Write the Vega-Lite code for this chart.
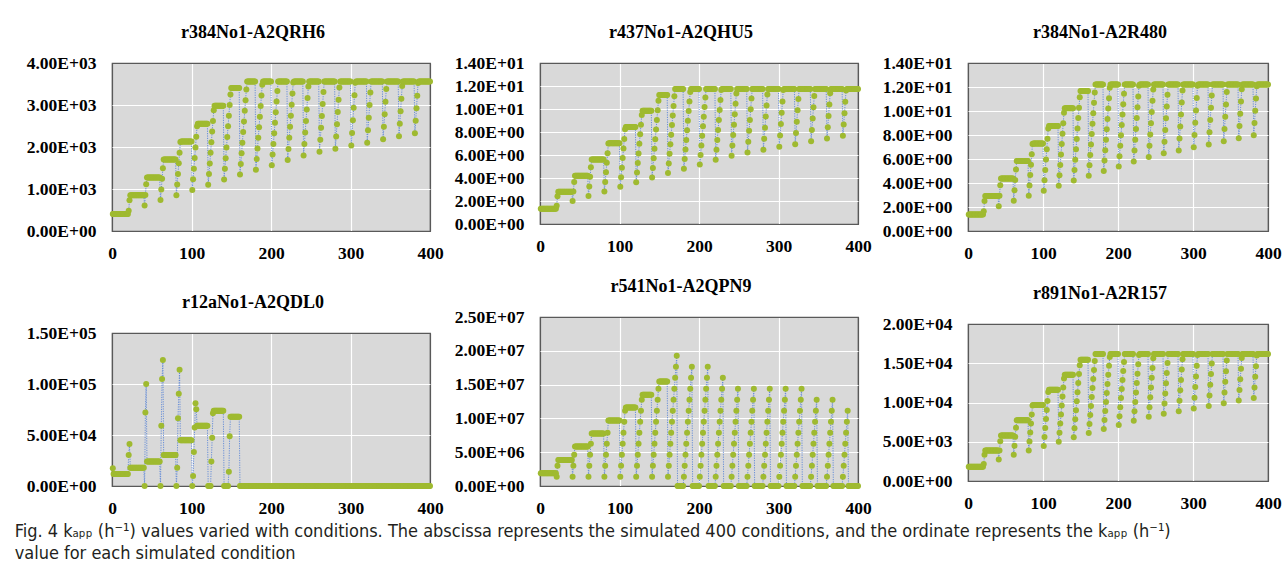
{
  "$schema": "https://vega.github.io/schema/vega-lite/v6.json",
  "background": "white",
  "padding": {"left": 14, "top": 23, "right": 2, "bottom": 2},
  "title": {
    "text": ["Fig. 4  kₐₚₚ (h⁻¹) values varied with conditions. The abscissa represents the simulated 400 conditions, and the ordinate represents the kₐₚₚ (h⁻¹)", "value for each simulated condition"],
    "orient": "bottom", "anchor": "start", "frame": "bounds",
    "font": "Liberation Sans Narrow, DejaVu Sans Condensed, Liberation Sans",
    "fontSize": 18, "fontWeight": "normal", "color": "#231f20",
    "lineHeight": 22, "offset": 6, "dx": -11
  },
  "spacing": 9,
  "hconcat": [
    {
      "spacing": 30,
      "vconcat": [
        {
          "width": 318, "height": 168,
          "title": "r384No1-A2QRH6",
          "data": {"values": "x,y\n1,402\n2,402\n3,402\n4,402\n5,402\n6,402\n7,402\n8,402\n9,402\n10,402\n11,402\n12,402\n13,402\n14,402\n15,402\n16,402\n17,402\n18,402\n19,402\n20,402\n21,481\n22,733\n23,851\n24,851\n25,851\n26,851\n27,851\n28,851\n29,851\n30,851\n31,851\n32,851\n33,851\n34,851\n35,851\n36,851\n37,851\n38,851\n39,851\n40,851\n41,605\n42,858\n43,1111\n44,1274\n45,1274\n46,1274\n47,1274\n48,1274\n49,1274\n50,1274\n51,1274\n52,1274\n53,1274\n54,1274\n55,1274\n56,1274\n57,1274\n58,1274\n59,1274\n60,1274\n61,737\n62,990\n63,1242\n64,1495\n65,1702\n66,1702\n67,1702\n68,1702\n69,1702\n70,1702\n71,1702\n72,1702\n73,1702\n74,1702\n75,1702\n76,1702\n77,1702\n78,1702\n79,1702\n80,1702\n81,854\n82,1107\n83,1360\n84,1613\n85,1865\n86,2118\n87,2129\n88,2129\n89,2129\n90,2129\n91,2129\n92,2129\n93,2129\n94,2129\n95,2129\n96,2129\n97,2129\n98,2129\n99,2129\n100,2129\n101,979\n102,1232\n103,1485\n104,1737\n105,1990\n106,2243\n107,2496\n108,2556\n109,2556\n110,2556\n111,2556\n112,2556\n113,2556\n114,2556\n115,2556\n116,2556\n117,2556\n118,2556\n119,2556\n120,2556\n121,1104\n122,1356\n123,1609\n124,1862\n125,2115\n126,2367\n127,2620\n128,2873\n129,2983\n130,2983\n131,2983\n132,2983\n133,2983\n134,2983\n135,2983\n136,2983\n137,2983\n138,2983\n139,2983\n140,2983\n141,1228\n142,1481\n143,1734\n144,1986\n145,2239\n146,2492\n147,2745\n148,2998\n149,3250\n150,3403\n151,3403\n152,3403\n153,3403\n154,3403\n155,3403\n156,3403\n157,3403\n158,3403\n159,3403\n160,3403\n161,1346\n162,1598\n163,1851\n164,2104\n165,2357\n166,2609\n167,2862\n168,3115\n169,3368\n170,3560\n171,3560\n172,3560\n173,3560\n174,3560\n175,3560\n176,3560\n177,3560\n178,3560\n179,3560\n180,3560\n181,1460\n182,1712\n183,1965\n184,2218\n185,2471\n186,2723\n187,2976\n188,3229\n189,3482\n190,3560\n191,3560\n192,3560\n193,3560\n194,3560\n195,3560\n196,3560\n197,3560\n198,3560\n199,3560\n200,3560\n201,1566\n202,1819\n203,2072\n204,2325\n205,2577\n206,2830\n207,3083\n208,3336\n209,3560\n210,3560\n211,3560\n212,3560\n213,3560\n214,3560\n215,3560\n216,3560\n217,3560\n218,3560\n219,3560\n220,3560\n221,1691\n222,1954\n223,2218\n224,2481\n225,2745\n226,3008\n227,3272\n228,3535\n229,3560\n230,3560\n231,3560\n232,3560\n233,3560\n234,3560\n235,3560\n236,3560\n237,3560\n238,3560\n239,3560\n240,3560\n241,1798\n242,2072\n243,2346\n244,2620\n245,2894\n246,3168\n247,3443\n248,3560\n249,3560\n250,3560\n251,3560\n252,3560\n253,3560\n254,3560\n255,3560\n256,3560\n257,3560\n258,3560\n259,3560\n260,3560\n261,1887\n262,2172\n263,2456\n264,2741\n265,3026\n266,3311\n267,3560\n268,3560\n269,3560\n270,3560\n271,3560\n272,3560\n273,3560\n274,3560\n275,3560\n276,3560\n277,3560\n278,3560\n279,3560\n280,3560\n281,1958\n282,2250\n283,2542\n284,2834\n285,3126\n286,3418\n287,3560\n288,3560\n289,3560\n290,3560\n291,3560\n292,3560\n293,3560\n294,3560\n295,3560\n296,3560\n297,3560\n298,3560\n299,3560\n300,3560\n301,2036\n302,2335\n303,2634\n304,2933\n305,3232\n306,3531\n307,3560\n308,3560\n309,3560\n310,3560\n311,3560\n312,3560\n313,3560\n314,3560\n315,3560\n316,3560\n317,3560\n318,3560\n319,3560\n320,3560\n321,2100\n322,2399\n323,2698\n324,2998\n325,3297\n326,3560\n327,3560\n328,3560\n329,3560\n330,3560\n331,3560\n332,3560\n333,3560\n334,3560\n335,3560\n336,3560\n337,3560\n338,3560\n339,3560\n340,3560\n341,2182\n342,2481\n343,2780\n344,3079\n345,3378\n346,3560\n347,3560\n348,3560\n349,3560\n350,3560\n351,3560\n352,3560\n353,3560\n354,3560\n355,3560\n356,3560\n357,3560\n358,3560\n359,3560\n360,3560\n361,2253\n362,2552\n363,2852\n364,3151\n365,3450\n366,3560\n367,3560\n368,3560\n369,3560\n370,3560\n371,3560\n372,3560\n373,3560\n374,3560\n375,3560\n376,3560\n377,3560\n378,3560\n379,3560\n380,3560\n381,2325\n382,2624\n383,2923\n384,3222\n385,3521\n386,3560\n387,3560\n388,3560\n389,3560\n390,3560\n391,3560\n392,3560\n393,3560\n394,3560\n395,3560\n396,3560\n397,3560\n398,3560\n399,3560\n400,3560", "format": {"type": "csv", "parse": {"x": "number", "y": "number"}}},
          "encoding": {
            "x": {"field": "x", "type": "quantitative", "title": null, "scale": {"domain": [0, 400]}, "axis": {"values": [0, 100, 200, 300, 400], "gridColor": {"condition": {"test": "datum.value==0||datum.value==400", "value": "#595959"}, "value": "#ffffff"}}},
            "y": {"field": "y", "type": "quantitative", "title": null, "scale": {"domain": [0, 4000]}, "axis": {"values": [0, 1000, 2000, 3000, 4000], "gridColor": {"condition": {"test": "datum.value==0||datum.value==4000", "value": "#595959"}, "value": "#ffffff"}}}
          },
          "layer": [
            {"mark": {"type": "line", "stroke": "#5b86d6", "strokeWidth": 0.9, "strokeDash": [1.2, 1.2]}},
            {"mark": {"type": "circle", "size": 36, "color": "#9fba30", "opacity": 1}}
          ]
        },
        {
          "width": 318, "height": 153,
          "title": "r12aNo1-A2QDL0",
          "data": {"values": "x,y\n1,17400\n2,11800\n3,11800\n4,11800\n5,11800\n6,11800\n7,11800\n8,11800\n9,11800\n10,11800\n11,11800\n12,11800\n13,11800\n14,11800\n15,11800\n16,11800\n17,11800\n18,11800\n19,11800\n20,11800\n21,30400\n22,41200\n23,18000\n24,18000\n25,18000\n26,18000\n27,18000\n28,18000\n29,18000\n30,18000\n31,18000\n32,18000\n33,18000\n34,18000\n35,18000\n36,18000\n37,18000\n38,18000\n39,18000\n40,18000\n41,0\n42,72000\n43,100000\n44,23900\n45,23900\n46,23900\n47,23900\n48,23900\n49,23900\n50,23900\n51,23900\n52,23900\n53,23900\n54,23900\n55,23900\n56,23900\n57,23900\n58,23900\n59,23900\n60,23900\n61,0\n62,59000\n63,105000\n64,123500\n65,30400\n66,30400\n67,30400\n68,30400\n69,30400\n70,30400\n71,30400\n72,30400\n73,30400\n74,30400\n75,30400\n76,30400\n77,30400\n78,30400\n79,30400\n80,30400\n81,0\n82,18000\n83,66500\n84,90400\n85,114000\n86,44900\n87,44900\n88,44900\n89,44900\n90,44900\n91,44900\n92,44900\n93,44900\n94,44900\n95,44900\n96,44900\n97,44900\n98,44900\n99,44900\n100,44900\n101,0\n102,9800\n103,33400\n104,57300\n105,81200\n106,75300\n107,59000\n108,59000\n109,59000\n110,59000\n111,59000\n112,59000\n113,59000\n114,59000\n115,59000\n116,59000\n117,59000\n118,59000\n119,59000\n120,59000\n121,0\n122,0\n123,0\n124,0\n125,23900\n126,47400\n127,71400\n128,73700\n129,73700\n130,73700\n131,73700\n132,73700\n133,73700\n134,73700\n135,73700\n136,73700\n137,73700\n138,73700\n139,73700\n140,73700\n141,0\n142,0\n143,0\n144,0\n145,0\n146,0\n147,14000\n148,48800\n149,67800\n150,67800\n151,67800\n152,67800\n153,67800\n154,67800\n155,67800\n156,67800\n157,67800\n158,67800\n159,67800\n160,67800\n161,0\n162,0\n163,0\n164,0\n165,0\n166,0\n167,0\n168,0\n169,0\n170,0\n171,0\n172,0\n173,0\n174,0\n175,0\n176,0\n177,0\n178,0\n179,0\n180,0\n181,0\n182,0\n183,0\n184,0\n185,0\n186,0\n187,0\n188,0\n189,0\n190,0\n191,0\n192,0\n193,0\n194,0\n195,0\n196,0\n197,0\n198,0\n199,0\n200,0\n201,0\n202,0\n203,0\n204,0\n205,0\n206,0\n207,0\n208,0\n209,0\n210,0\n211,0\n212,0\n213,0\n214,0\n215,0\n216,0\n217,0\n218,0\n219,0\n220,0\n221,0\n222,0\n223,0\n224,0\n225,0\n226,0\n227,0\n228,0\n229,0\n230,0\n231,0\n232,0\n233,0\n234,0\n235,0\n236,0\n237,0\n238,0\n239,0\n240,0\n241,0\n242,0\n243,0\n244,0\n245,0\n246,0\n247,0\n248,0\n249,0\n250,0\n251,0\n252,0\n253,0\n254,0\n255,0\n256,0\n257,0\n258,0\n259,0\n260,0\n261,0\n262,0\n263,0\n264,0\n265,0\n266,0\n267,0\n268,0\n269,0\n270,0\n271,0\n272,0\n273,0\n274,0\n275,0\n276,0\n277,0\n278,0\n279,0\n280,0\n281,0\n282,0\n283,0\n284,0\n285,0\n286,0\n287,0\n288,0\n289,0\n290,0\n291,0\n292,0\n293,0\n294,0\n295,0\n296,0\n297,0\n298,0\n299,0\n300,0\n301,0\n302,0\n303,0\n304,0\n305,0\n306,0\n307,0\n308,0\n309,0\n310,0\n311,0\n312,0\n313,0\n314,0\n315,0\n316,0\n317,0\n318,0\n319,0\n320,0\n321,0\n322,0\n323,0\n324,0\n325,0\n326,0\n327,0\n328,0\n329,0\n330,0\n331,0\n332,0\n333,0\n334,0\n335,0\n336,0\n337,0\n338,0\n339,0\n340,0\n341,0\n342,0\n343,0\n344,0\n345,0\n346,0\n347,0\n348,0\n349,0\n350,0\n351,0\n352,0\n353,0\n354,0\n355,0\n356,0\n357,0\n358,0\n359,0\n360,0\n361,0\n362,0\n363,0\n364,0\n365,0\n366,0\n367,0\n368,0\n369,0\n370,0\n371,0\n372,0\n373,0\n374,0\n375,0\n376,0\n377,0\n378,0\n379,0\n380,0\n381,0\n382,0\n383,0\n384,0\n385,0\n386,0\n387,0\n388,0\n389,0\n390,0\n391,0\n392,0\n393,0\n394,0\n395,0\n396,0\n397,0\n398,0\n399,0\n400,0", "format": {"type": "csv", "parse": {"x": "number", "y": "number"}}},
          "encoding": {
            "x": {"field": "x", "type": "quantitative", "title": null, "scale": {"domain": [0, 400]}, "axis": {"values": [0, 100, 200, 300, 400], "gridColor": {"condition": {"test": "datum.value==0||datum.value==400", "value": "#595959"}, "value": "#ffffff"}}},
            "y": {"field": "y", "type": "quantitative", "title": null, "scale": {"domain": [0, 150000]}, "axis": {"values": [0, 50000, 100000, 150000], "gridColor": {"condition": {"test": "datum.value==0||datum.value==150000", "value": "#595959"}, "value": "#ffffff"}}}
          },
          "layer": [
            {"mark": {"type": "line", "stroke": "#5b86d6", "strokeWidth": 0.9, "strokeDash": [1.2, 1.2]}},
            {"mark": {"type": "circle", "size": 36, "color": "#9fba30", "opacity": 1}}
          ]
        }
      ]
    },
    {
      "spacing": 21,
      "vconcat": [
        {
          "width": 318, "height": 161,
          "title": "r437No1-A2QHU5",
          "data": {"values": "x,y\n1,1.33\n2,1.33\n3,1.33\n4,1.33\n5,1.33\n6,1.33\n7,1.33\n8,1.33\n9,1.33\n10,1.33\n11,1.33\n12,1.33\n13,1.33\n14,1.33\n15,1.33\n16,1.33\n17,1.33\n18,1.33\n19,1.33\n20,1.33\n21,1.59\n22,2.42\n23,2.81\n24,2.81\n25,2.81\n26,2.81\n27,2.81\n28,2.81\n29,2.81\n30,2.81\n31,2.81\n32,2.81\n33,2.81\n34,2.81\n35,2.81\n36,2.81\n37,2.81\n38,2.81\n39,2.81\n40,2.81\n41,2.00\n42,2.83\n43,3.66\n44,4.20\n45,4.20\n46,4.20\n47,4.20\n48,4.20\n49,4.20\n50,4.20\n51,4.20\n52,4.20\n53,4.20\n54,4.20\n55,4.20\n56,4.20\n57,4.20\n58,4.20\n59,4.20\n60,4.20\n61,2.43\n62,3.26\n63,4.10\n64,4.93\n65,5.61\n66,5.61\n67,5.61\n68,5.61\n69,5.61\n70,5.61\n71,5.61\n72,5.61\n73,5.61\n74,5.61\n75,5.61\n76,5.61\n77,5.61\n78,5.61\n79,5.61\n80,5.61\n81,2.82\n82,3.65\n83,4.49\n84,5.32\n85,6.15\n86,6.99\n87,7.02\n88,7.02\n89,7.02\n90,7.02\n91,7.02\n92,7.02\n93,7.02\n94,7.02\n95,7.02\n96,7.02\n97,7.02\n98,7.02\n99,7.02\n100,7.02\n101,3.23\n102,4.06\n103,4.90\n104,5.73\n105,6.56\n106,7.40\n107,8.23\n108,8.43\n109,8.43\n110,8.43\n111,8.43\n112,8.43\n113,8.43\n114,8.43\n115,8.43\n116,8.43\n117,8.43\n118,8.43\n119,8.43\n120,8.43\n121,3.64\n122,4.47\n123,5.31\n124,6.14\n125,6.97\n126,7.81\n127,8.64\n128,9.47\n129,9.84\n130,9.84\n131,9.84\n132,9.84\n133,9.84\n134,9.84\n135,9.84\n136,9.84\n137,9.84\n138,9.84\n139,9.84\n140,9.84\n141,4.05\n142,4.88\n143,5.72\n144,6.55\n145,7.38\n146,8.22\n147,9.05\n148,9.89\n149,10.72\n150,11.22\n151,11.22\n152,11.22\n153,11.22\n154,11.22\n155,11.22\n156,11.22\n157,11.22\n158,11.22\n159,11.22\n160,11.22\n161,4.44\n162,5.27\n163,6.11\n164,6.94\n165,7.77\n166,8.61\n167,9.44\n168,10.27\n169,11.11\n170,11.74\n171,11.74\n172,11.74\n173,11.74\n174,11.74\n175,11.74\n176,11.74\n177,11.74\n178,11.74\n179,11.74\n180,11.74\n181,4.81\n182,5.65\n183,6.48\n184,7.31\n185,8.15\n186,8.98\n187,9.82\n188,10.65\n189,11.48\n190,11.74\n191,11.74\n192,11.74\n193,11.74\n194,11.74\n195,11.74\n196,11.74\n197,11.74\n198,11.74\n199,11.74\n200,11.74\n201,5.17\n202,6.00\n203,6.83\n204,7.67\n205,8.50\n206,9.33\n207,10.17\n208,11.00\n209,11.74\n210,11.74\n211,11.74\n212,11.74\n213,11.74\n214,11.74\n215,11.74\n216,11.74\n217,11.74\n218,11.74\n219,11.74\n220,11.74\n221,5.58\n222,6.45\n223,7.31\n224,8.18\n225,9.05\n226,9.92\n227,10.79\n228,11.66\n229,11.74\n230,11.74\n231,11.74\n232,11.74\n233,11.74\n234,11.74\n235,11.74\n236,11.74\n237,11.74\n238,11.74\n239,11.74\n240,11.74\n241,5.93\n242,6.83\n243,7.74\n244,8.64\n245,9.55\n246,10.45\n247,11.35\n248,11.74\n249,11.74\n250,11.74\n251,11.74\n252,11.74\n253,11.74\n254,11.74\n255,11.74\n256,11.74\n257,11.74\n258,11.74\n259,11.74\n260,11.74\n261,6.22\n262,7.16\n263,8.10\n264,9.04\n265,9.98\n266,10.92\n267,11.74\n268,11.74\n269,11.74\n270,11.74\n271,11.74\n272,11.74\n273,11.74\n274,11.74\n275,11.74\n276,11.74\n277,11.74\n278,11.74\n279,11.74\n280,11.74\n281,6.46\n282,7.42\n283,8.38\n284,9.35\n285,10.31\n286,11.27\n287,11.74\n288,11.74\n289,11.74\n290,11.74\n291,11.74\n292,11.74\n293,11.74\n294,11.74\n295,11.74\n296,11.74\n297,11.74\n298,11.74\n299,11.74\n300,11.74\n301,6.72\n302,7.70\n303,8.69\n304,9.67\n305,10.66\n306,11.65\n307,11.74\n308,11.74\n309,11.74\n310,11.74\n311,11.74\n312,11.74\n313,11.74\n314,11.74\n315,11.74\n316,11.74\n317,11.74\n318,11.74\n319,11.74\n320,11.74\n321,6.93\n322,7.91\n323,8.90\n324,9.89\n325,10.87\n326,11.74\n327,11.74\n328,11.74\n329,11.74\n330,11.74\n331,11.74\n332,11.74\n333,11.74\n334,11.74\n335,11.74\n336,11.74\n337,11.74\n338,11.74\n339,11.74\n340,11.74\n341,7.20\n342,8.18\n343,9.17\n344,10.16\n345,11.14\n346,11.74\n347,11.74\n348,11.74\n349,11.74\n350,11.74\n351,11.74\n352,11.74\n353,11.74\n354,11.74\n355,11.74\n356,11.74\n357,11.74\n358,11.74\n359,11.74\n360,11.74\n361,7.43\n362,8.42\n363,9.40\n364,10.39\n365,11.38\n366,11.74\n367,11.74\n368,11.74\n369,11.74\n370,11.74\n371,11.74\n372,11.74\n373,11.74\n374,11.74\n375,11.74\n376,11.74\n377,11.74\n378,11.74\n379,11.74\n380,11.74\n381,7.67\n382,8.65\n383,9.64\n384,10.63\n385,11.61\n386,11.74\n387,11.74\n388,11.74\n389,11.74\n390,11.74\n391,11.74\n392,11.74\n393,11.74\n394,11.74\n395,11.74\n396,11.74\n397,11.74\n398,11.74\n399,11.74\n400,11.74", "format": {"type": "csv", "parse": {"x": "number", "y": "number"}}},
          "encoding": {
            "x": {"field": "x", "type": "quantitative", "title": null, "scale": {"domain": [0, 400]}, "axis": {"values": [0, 100, 200, 300, 400], "gridColor": {"condition": {"test": "datum.value==0||datum.value==400", "value": "#595959"}, "value": "#ffffff"}}},
            "y": {"field": "y", "type": "quantitative", "title": null, "scale": {"domain": [0, 14]}, "axis": {"values": [0, 2, 4, 6, 8, 10, 12, 14], "gridColor": {"condition": {"test": "datum.value==0||datum.value==14", "value": "#595959"}, "value": "#ffffff"}}}
          },
          "layer": [
            {"mark": {"type": "line", "stroke": "#5b86d6", "strokeWidth": 0.9, "strokeDash": [1.2, 1.2]}},
            {"mark": {"type": "circle", "size": 36, "color": "#9fba30", "opacity": 1}}
          ]
        },
        {
          "width": 318, "height": 169,
          "title": "r541No1-A2QPN9",
          "data": {"values": "x,y\n1,1.88e6\n2,1.88e6\n3,1.88e6\n4,1.88e6\n5,1.88e6\n6,1.88e6\n7,1.88e6\n8,1.88e6\n9,1.88e6\n10,1.88e6\n11,1.88e6\n12,1.88e6\n13,1.88e6\n14,1.88e6\n15,1.88e6\n16,1.88e6\n17,1.88e6\n18,1.88e6\n19,1.88e6\n20,1.88e6\n21,1.38e6\n22,3.0e6\n23,3.85e6\n24,3.85e6\n25,3.85e6\n26,3.85e6\n27,3.85e6\n28,3.85e6\n29,3.85e6\n30,3.85e6\n31,3.85e6\n32,3.85e6\n33,3.85e6\n34,3.85e6\n35,3.85e6\n36,3.85e6\n37,3.85e6\n38,3.85e6\n39,3.85e6\n40,3.85e6\n41,1.38e6\n42,3.0e6\n43,4.63e6\n44,5.85e6\n45,5.85e6\n46,5.85e6\n47,5.85e6\n48,5.85e6\n49,5.85e6\n50,5.85e6\n51,5.85e6\n52,5.85e6\n53,5.85e6\n54,5.85e6\n55,5.85e6\n56,5.85e6\n57,5.85e6\n58,5.85e6\n59,5.85e6\n60,5.85e6\n61,1.38e6\n62,3.0e6\n63,4.63e6\n64,6.25e6\n65,7.78e6\n66,7.78e6\n67,7.78e6\n68,7.78e6\n69,7.78e6\n70,7.78e6\n71,7.78e6\n72,7.78e6\n73,7.78e6\n74,7.78e6\n75,7.78e6\n76,7.78e6\n77,7.78e6\n78,7.78e6\n79,7.78e6\n80,7.78e6\n81,1.38e6\n82,3.0e6\n83,4.63e6\n84,6.25e6\n85,7.88e6\n86,9.68e6\n87,9.68e6\n88,9.68e6\n89,9.68e6\n90,9.68e6\n91,9.68e6\n92,9.68e6\n93,9.68e6\n94,9.68e6\n95,9.68e6\n96,9.68e6\n97,9.68e6\n98,9.68e6\n99,9.68e6\n100,9.68e6\n101,1.38e6\n102,3.0e6\n103,4.63e6\n104,6.25e6\n105,7.88e6\n106,9.5e6\n107,1.113e7\n108,1.16e7\n109,1.16e7\n110,1.16e7\n111,1.16e7\n112,1.16e7\n113,1.16e7\n114,1.16e7\n115,1.16e7\n116,1.16e7\n117,1.16e7\n118,1.16e7\n119,1.16e7\n120,1.16e7\n121,1.38e6\n122,3.0e6\n123,4.63e6\n124,6.25e6\n125,7.88e6\n126,9.5e6\n127,1.113e7\n128,1.275e7\n129,1.35e7\n130,1.35e7\n131,1.35e7\n132,1.35e7\n133,1.35e7\n134,1.35e7\n135,1.35e7\n136,1.35e7\n137,1.35e7\n138,1.35e7\n139,1.35e7\n140,1.35e7\n141,1.38e6\n142,3.0e6\n143,4.63e6\n144,6.25e6\n145,7.88e6\n146,9.5e6\n147,1.113e7\n148,1.275e7\n149,1.438e7\n150,1.546e7\n151,1.546e7\n152,1.546e7\n153,1.546e7\n154,1.546e7\n155,1.546e7\n156,1.546e7\n157,1.546e7\n158,1.546e7\n159,1.546e7\n160,1.546e7\n161,1.38e6\n162,3.0e6\n163,4.63e6\n164,6.25e6\n165,7.88e6\n166,9.5e6\n167,1.113e7\n168,1.275e7\n169,1.438e7\n170,1.6e7\n171,1.763e7\n172,1.925e7\n173,0\n174,0\n175,0\n176,0\n177,0\n178,0\n179,0\n180,0\n181,1.38e6\n182,3.0e6\n183,4.63e6\n184,6.25e6\n185,7.88e6\n186,9.5e6\n187,1.113e7\n188,1.275e7\n189,1.438e7\n190,1.6e7\n191,1.763e7\n192,0\n193,0\n194,0\n195,0\n196,0\n197,0\n198,0\n199,0\n200,0\n201,1.38e6\n202,3.0e6\n203,4.63e6\n204,6.25e6\n205,7.88e6\n206,9.5e6\n207,1.113e7\n208,1.275e7\n209,1.438e7\n210,1.6e7\n211,1.763e7\n212,0\n213,0\n214,0\n215,0\n216,0\n217,0\n218,0\n219,0\n220,0\n221,1.38e6\n222,3.0e6\n223,4.63e6\n224,6.25e6\n225,7.88e6\n226,9.5e6\n227,1.113e7\n228,1.275e7\n229,1.438e7\n230,1.6e7\n231,0\n232,0\n233,0\n234,0\n235,0\n236,0\n237,0\n238,0\n239,0\n240,0\n241,1.38e6\n242,3.0e6\n243,4.63e6\n244,6.25e6\n245,7.88e6\n246,9.5e6\n247,1.113e7\n248,1.275e7\n249,1.438e7\n250,0\n251,0\n252,0\n253,0\n254,0\n255,0\n256,0\n257,0\n258,0\n259,0\n260,0\n261,1.38e6\n262,3.0e6\n263,4.63e6\n264,6.25e6\n265,7.88e6\n266,9.5e6\n267,1.113e7\n268,1.275e7\n269,1.438e7\n270,0\n271,0\n272,0\n273,0\n274,0\n275,0\n276,0\n277,0\n278,0\n279,0\n280,0\n281,1.38e6\n282,3.0e6\n283,4.63e6\n284,6.25e6\n285,7.88e6\n286,9.5e6\n287,1.113e7\n288,1.275e7\n289,1.438e7\n290,0\n291,0\n292,0\n293,0\n294,0\n295,0\n296,0\n297,0\n298,0\n299,0\n300,0\n301,1.38e6\n302,3.0e6\n303,4.63e6\n304,6.25e6\n305,7.88e6\n306,9.5e6\n307,1.113e7\n308,1.275e7\n309,1.438e7\n310,0\n311,0\n312,0\n313,0\n314,0\n315,0\n316,0\n317,0\n318,0\n319,0\n320,0\n321,1.38e6\n322,3.0e6\n323,4.63e6\n324,6.25e6\n325,7.88e6\n326,9.5e6\n327,1.113e7\n328,1.275e7\n329,1.438e7\n330,0\n331,0\n332,0\n333,0\n334,0\n335,0\n336,0\n337,0\n338,0\n339,0\n340,0\n341,1.38e6\n342,3.0e6\n343,4.63e6\n344,6.25e6\n345,7.88e6\n346,9.5e6\n347,1.113e7\n348,1.275e7\n349,0\n350,0\n351,0\n352,0\n353,0\n354,0\n355,0\n356,0\n357,0\n358,0\n359,0\n360,0\n361,1.38e6\n362,3.0e6\n363,4.63e6\n364,6.25e6\n365,7.88e6\n366,9.5e6\n367,1.113e7\n368,1.275e7\n369,0\n370,0\n371,0\n372,0\n373,0\n374,0\n375,0\n376,0\n377,0\n378,0\n379,0\n380,0\n381,1.38e6\n382,3.0e6\n383,4.63e6\n384,6.25e6\n385,7.88e6\n386,9.5e6\n387,1.113e7\n388,0\n389,0\n390,0\n391,0\n392,0\n393,0\n394,0\n395,0\n396,0\n397,0\n398,0\n399,0\n400,0", "format": {"type": "csv", "parse": {"x": "number", "y": "number"}}},
          "encoding": {
            "x": {"field": "x", "type": "quantitative", "title": null, "scale": {"domain": [0, 400]}, "axis": {"values": [0, 100, 200, 300, 400], "gridColor": {"condition": {"test": "datum.value==0||datum.value==400", "value": "#595959"}, "value": "#ffffff"}}},
            "y": {"field": "y", "type": "quantitative", "title": null, "scale": {"domain": [0, 25000000]}, "axis": {"values": [0, 5000000, 10000000, 15000000, 20000000, 25000000], "gridColor": {"condition": {"test": "datum.value==0||datum.value==25000000", "value": "#595959"}, "value": "#ffffff"}}}
          },
          "layer": [
            {"mark": {"type": "line", "stroke": "#5b86d6", "strokeWidth": 0.9, "strokeDash": [1.2, 1.2]}},
            {"mark": {"type": "circle", "size": 36, "color": "#9fba30", "opacity": 1}}
          ]
        }
      ]
    },
    {
      "spacing": 21,
      "vconcat": [
        {
          "width": 300, "height": 168,
          "title": "r384No1-A2R480",
          "data": {"values": "x,y\n1,1.38\n2,1.38\n3,1.38\n4,1.38\n5,1.38\n6,1.38\n7,1.38\n8,1.38\n9,1.38\n10,1.38\n11,1.38\n12,1.38\n13,1.38\n14,1.38\n15,1.38\n16,1.38\n17,1.38\n18,1.38\n19,1.38\n20,1.38\n21,1.65\n22,2.51\n23,2.92\n24,2.92\n25,2.92\n26,2.92\n27,2.92\n28,2.92\n29,2.92\n30,2.92\n31,2.92\n32,2.92\n33,2.92\n34,2.92\n35,2.92\n36,2.92\n37,2.92\n38,2.92\n39,2.92\n40,2.92\n41,2.07\n42,2.94\n43,3.81\n44,4.37\n45,4.37\n46,4.37\n47,4.37\n48,4.37\n49,4.37\n50,4.37\n51,4.37\n52,4.37\n53,4.37\n54,4.37\n55,4.37\n56,4.37\n57,4.37\n58,4.37\n59,4.37\n60,4.37\n61,2.53\n62,3.39\n63,4.26\n64,5.12\n65,5.83\n66,5.83\n67,5.83\n68,5.83\n69,5.83\n70,5.83\n71,5.83\n72,5.83\n73,5.83\n74,5.83\n75,5.83\n76,5.83\n77,5.83\n78,5.83\n79,5.83\n80,5.83\n81,2.93\n82,3.79\n83,4.66\n84,5.53\n85,6.39\n86,7.26\n87,7.30\n88,7.30\n89,7.30\n90,7.30\n91,7.30\n92,7.30\n93,7.30\n94,7.30\n95,7.30\n96,7.30\n97,7.30\n98,7.30\n99,7.30\n100,7.30\n101,3.36\n102,4.22\n103,5.09\n104,5.95\n105,6.82\n106,7.69\n107,8.55\n108,8.76\n109,8.76\n110,8.76\n111,8.76\n112,8.76\n113,8.76\n114,8.76\n115,8.76\n116,8.76\n117,8.76\n118,8.76\n119,8.76\n120,8.76\n121,3.78\n122,4.65\n123,5.51\n124,6.38\n125,7.25\n126,8.11\n127,8.98\n128,9.85\n129,10.22\n130,10.22\n131,10.22\n132,10.22\n133,10.22\n134,10.22\n135,10.22\n136,10.22\n137,10.22\n138,10.22\n139,10.22\n140,10.22\n141,4.21\n142,5.08\n143,5.94\n144,6.81\n145,7.67\n146,8.54\n147,9.41\n148,10.27\n149,11.14\n150,11.66\n151,11.66\n152,11.66\n153,11.66\n154,11.66\n155,11.66\n156,11.66\n157,11.66\n158,11.66\n159,11.66\n160,11.66\n161,4.61\n162,5.48\n163,6.34\n164,7.21\n165,8.08\n166,8.94\n167,9.81\n168,10.68\n169,11.54\n170,12.2\n171,12.2\n172,12.2\n173,12.2\n174,12.2\n175,12.2\n176,12.2\n177,12.2\n178,12.2\n179,12.2\n180,12.2\n181,5.00\n182,5.87\n183,6.73\n184,7.60\n185,8.47\n186,9.33\n187,10.20\n188,11.07\n189,11.93\n190,12.2\n191,12.2\n192,12.2\n193,12.2\n194,12.2\n195,12.2\n196,12.2\n197,12.2\n198,12.2\n199,12.2\n200,12.2\n201,5.37\n202,6.23\n203,7.10\n204,7.97\n205,8.83\n206,9.70\n207,10.57\n208,11.43\n209,12.2\n210,12.2\n211,12.2\n212,12.2\n213,12.2\n214,12.2\n215,12.2\n216,12.2\n217,12.2\n218,12.2\n219,12.2\n220,12.2\n221,5.80\n222,6.70\n223,7.60\n224,8.50\n225,9.41\n226,10.31\n227,11.21\n228,12.11\n229,12.2\n230,12.2\n231,12.2\n232,12.2\n233,12.2\n234,12.2\n235,12.2\n236,12.2\n237,12.2\n238,12.2\n239,12.2\n240,12.2\n241,6.16\n242,7.10\n243,8.04\n244,8.98\n245,9.92\n246,10.86\n247,11.80\n248,12.2\n249,12.2\n250,12.2\n251,12.2\n252,12.2\n253,12.2\n254,12.2\n255,12.2\n256,12.2\n257,12.2\n258,12.2\n259,12.2\n260,12.2\n261,6.47\n262,7.44\n263,8.42\n264,9.39\n265,10.37\n266,11.35\n267,12.2\n268,12.2\n269,12.2\n270,12.2\n271,12.2\n272,12.2\n273,12.2\n274,12.2\n275,12.2\n276,12.2\n277,12.2\n278,12.2\n279,12.2\n280,12.2\n281,6.71\n282,7.71\n283,8.71\n284,9.71\n285,10.71\n286,11.71\n287,12.2\n288,12.2\n289,12.2\n290,12.2\n291,12.2\n292,12.2\n293,12.2\n294,12.2\n295,12.2\n296,12.2\n297,12.2\n298,12.2\n299,12.2\n300,12.2\n301,6.98\n302,8.00\n303,9.03\n304,10.05\n305,11.08\n306,12.10\n307,12.2\n308,12.2\n309,12.2\n310,12.2\n311,12.2\n312,12.2\n313,12.2\n314,12.2\n315,12.2\n316,12.2\n317,12.2\n318,12.2\n319,12.2\n320,12.2\n321,7.20\n322,8.22\n323,9.25\n324,10.27\n325,11.30\n326,12.2\n327,12.2\n328,12.2\n329,12.2\n330,12.2\n331,12.2\n332,12.2\n333,12.2\n334,12.2\n335,12.2\n336,12.2\n337,12.2\n338,12.2\n339,12.2\n340,12.2\n341,7.48\n342,8.50\n343,9.53\n344,10.55\n345,11.58\n346,12.2\n347,12.2\n348,12.2\n349,12.2\n350,12.2\n351,12.2\n352,12.2\n353,12.2\n354,12.2\n355,12.2\n356,12.2\n357,12.2\n358,12.2\n359,12.2\n360,12.2\n361,7.72\n362,8.75\n363,9.77\n364,10.80\n365,11.82\n366,12.2\n367,12.2\n368,12.2\n369,12.2\n370,12.2\n371,12.2\n372,12.2\n373,12.2\n374,12.2\n375,12.2\n376,12.2\n377,12.2\n378,12.2\n379,12.2\n380,12.2\n381,7.97\n382,8.99\n383,10.02\n384,11.04\n385,12.07\n386,12.2\n387,12.2\n388,12.2\n389,12.2\n390,12.2\n391,12.2\n392,12.2\n393,12.2\n394,12.2\n395,12.2\n396,12.2\n397,12.2\n398,12.2\n399,12.2\n400,12.2", "format": {"type": "csv", "parse": {"x": "number", "y": "number"}}},
          "encoding": {
            "x": {"field": "x", "type": "quantitative", "title": null, "scale": {"domain": [0, 400]}, "axis": {"values": [0, 100, 200, 300, 400], "gridColor": {"condition": {"test": "datum.value==0||datum.value==400", "value": "#595959"}, "value": "#ffffff"}}},
            "y": {"field": "y", "type": "quantitative", "title": null, "scale": {"domain": [0, 14]}, "axis": {"values": [0, 2, 4, 6, 8, 10, 12, 14], "gridColor": {"condition": {"test": "datum.value==0||datum.value==14", "value": "#595959"}, "value": "#ffffff"}}}
          },
          "layer": [
            {"mark": {"type": "line", "stroke": "#5b86d6", "strokeWidth": 0.9, "strokeDash": [1.2, 1.2]}},
            {"mark": {"type": "circle", "size": 36, "color": "#9fba30", "opacity": 1}}
          ]
        },
        {
          "width": 300, "height": 157,
          "title": "r891No1-A2R157",
          "data": {"values": "x,y\n1,1830\n2,1830\n3,1830\n4,1830\n5,1830\n6,1830\n7,1830\n8,1830\n9,1830\n10,1830\n11,1830\n12,1830\n13,1830\n14,1830\n15,1830\n16,1830\n17,1830\n18,1830\n19,1830\n20,1830\n21,2180\n22,3330\n23,3870\n24,3870\n25,3870\n26,3870\n27,3870\n28,3870\n29,3870\n30,3870\n31,3870\n32,3870\n33,3870\n34,3870\n35,3870\n36,3870\n37,3870\n38,3870\n39,3870\n40,3870\n41,2750\n42,3900\n43,5050\n44,5790\n45,5790\n46,5790\n47,5790\n48,5790\n49,5790\n50,5790\n51,5790\n52,5790\n53,5790\n54,5790\n55,5790\n56,5790\n57,5790\n58,5790\n59,5790\n60,5790\n61,3350\n62,4500\n63,5640\n64,6790\n65,7730\n66,7730\n67,7730\n68,7730\n69,7730\n70,7730\n71,7730\n72,7730\n73,7730\n74,7730\n75,7730\n76,7730\n77,7730\n78,7730\n79,7730\n80,7730\n81,3880\n82,5030\n83,6180\n84,7330\n85,8470\n86,9620\n87,9670\n88,9670\n89,9670\n90,9670\n91,9670\n92,9670\n93,9670\n94,9670\n95,9670\n96,9670\n97,9670\n98,9670\n99,9670\n100,9670\n101,4450\n102,5600\n103,6740\n104,7890\n105,9040\n106,10190\n107,11340\n108,11610\n109,11610\n110,11610\n111,11610\n112,11610\n113,11610\n114,11610\n115,11610\n116,11610\n117,11610\n118,11610\n119,11610\n120,11610\n121,5010\n122,6160\n123,7310\n124,8460\n125,9610\n126,10750\n127,11900\n128,13050\n129,13550\n130,13550\n131,13550\n132,13550\n133,13550\n134,13550\n135,13550\n136,13550\n137,13550\n138,13550\n139,13550\n140,13550\n141,5580\n142,6730\n143,7880\n144,9020\n145,10170\n146,11320\n147,12470\n148,13620\n149,14760\n150,15460\n151,15460\n152,15460\n153,15460\n154,15460\n155,15460\n156,15460\n157,15460\n158,15460\n159,15460\n160,15460\n161,6110\n162,7260\n163,8410\n164,9560\n165,10710\n166,11850\n167,13000\n168,14150\n169,15300\n170,16170\n171,16170\n172,16170\n173,16170\n174,16170\n175,16170\n176,16170\n177,16170\n178,16170\n179,16170\n180,16170\n181,6630\n182,7780\n183,8930\n184,10070\n185,11220\n186,12370\n187,13520\n188,14670\n189,15810\n190,16170\n191,16170\n192,16170\n193,16170\n194,16170\n195,16170\n196,16170\n197,16170\n198,16170\n199,16170\n200,16170\n201,7120\n202,8260\n203,9410\n204,10560\n205,11710\n206,12860\n207,14000\n208,15150\n209,16170\n210,16170\n211,16170\n212,16170\n213,16170\n214,16170\n215,16170\n216,16170\n217,16170\n218,16170\n219,16170\n220,16170\n221,7680\n222,8880\n223,10070\n224,11270\n225,12470\n226,13660\n227,14860\n228,16060\n229,16170\n230,16170\n231,16170\n232,16170\n233,16170\n234,16170\n235,16170\n236,16170\n237,16170\n238,16170\n239,16170\n240,16170\n241,8170\n242,9410\n243,10660\n244,11900\n245,13150\n246,14390\n247,15640\n248,16170\n249,16170\n250,16170\n251,16170\n252,16170\n253,16170\n254,16170\n255,16170\n256,16170\n257,16170\n258,16170\n259,16170\n260,16170\n261,8570\n262,9860\n263,11160\n264,12450\n265,13750\n266,15040\n267,16170\n268,16170\n269,16170\n270,16170\n271,16170\n272,16170\n273,16170\n274,16170\n275,16170\n276,16170\n277,16170\n278,16170\n279,16170\n280,16170\n281,8890\n282,10220\n283,11550\n284,12870\n285,14200\n286,15520\n287,16170\n288,16170\n289,16170\n290,16170\n291,16170\n292,16170\n293,16170\n294,16170\n295,16170\n296,16170\n297,16170\n298,16170\n299,16170\n300,16170\n301,9250\n302,10610\n303,11970\n304,13320\n305,14680\n306,16040\n307,16170\n308,16170\n309,16170\n310,16170\n311,16170\n312,16170\n313,16170\n314,16170\n315,16170\n316,16170\n317,16170\n318,16170\n319,16170\n320,16170\n321,9540\n322,10900\n323,12260\n324,13620\n325,14970\n326,16170\n327,16170\n328,16170\n329,16170\n330,16170\n331,16170\n332,16170\n333,16170\n334,16170\n335,16170\n336,16170\n337,16170\n338,16170\n339,16170\n340,16170\n341,9910\n342,11270\n343,12630\n344,13990\n345,15350\n346,16170\n347,16170\n348,16170\n349,16170\n350,16170\n351,16170\n352,16170\n353,16170\n354,16170\n355,16170\n356,16170\n357,16170\n358,16170\n359,16170\n360,16170\n361,10240\n362,11590\n363,12950\n364,14310\n365,15670\n366,16170\n367,16170\n368,16170\n369,16170\n370,16170\n371,16170\n372,16170\n373,16170\n374,16170\n375,16170\n376,16170\n377,16170\n378,16170\n379,16170\n380,16170\n381,10560\n382,11920\n383,13280\n384,14630\n385,15990\n386,16170\n387,16170\n388,16170\n389,16170\n390,16170\n391,16170\n392,16170\n393,16170\n394,16170\n395,16170\n396,16170\n397,16170\n398,16170\n399,16170\n400,16170", "format": {"type": "csv", "parse": {"x": "number", "y": "number"}}},
          "encoding": {
            "x": {"field": "x", "type": "quantitative", "title": null, "scale": {"domain": [0, 400]}, "axis": {"values": [0, 100, 200, 300, 400], "gridColor": {"condition": {"test": "datum.value==0||datum.value==400", "value": "#595959"}, "value": "#ffffff"}}},
            "y": {"field": "y", "type": "quantitative", "title": null, "scale": {"domain": [0, 20000]}, "axis": {"values": [0, 5000, 10000, 15000, 20000], "gridColor": {"condition": {"test": "datum.value==0||datum.value==20000", "value": "#595959"}, "value": "#ffffff"}}}
          },
          "layer": [
            {"mark": {"type": "line", "stroke": "#5b86d6", "strokeWidth": 0.9, "strokeDash": [1.2, 1.2]}},
            {"mark": {"type": "circle", "size": 36, "color": "#9fba30", "opacity": 1}}
          ]
        }
      ]
    }
  ],
  "config": {
    "view": {"fill": "#d9d9d9", "stroke": "#595959", "strokeWidth": 1.2},
    "axis": {
      "domain": false, "ticks": false, "grid": true, "gridWidth": 1.2, "gridOpacity": 1,
      "labelFont": "Liberation Serif", "labelFontWeight": "bold", "labelFontSize": 17.5, "labelColor": "#000000",
      "labelOverlap": false
    },
    "axisX": {"labelPadding": 13, "labelFlush": false},
    "axisY": {"labelPadding": 16, "labelExpr": "replace(upper(format(datum.value, '.2e')), 'E+', 'E+0')"},
    "title": {"font": "Liberation Serif", "fontWeight": "bold", "fontSize": 18, "color": "#000000", "offset": 12, "dx": -18}
  }
}
